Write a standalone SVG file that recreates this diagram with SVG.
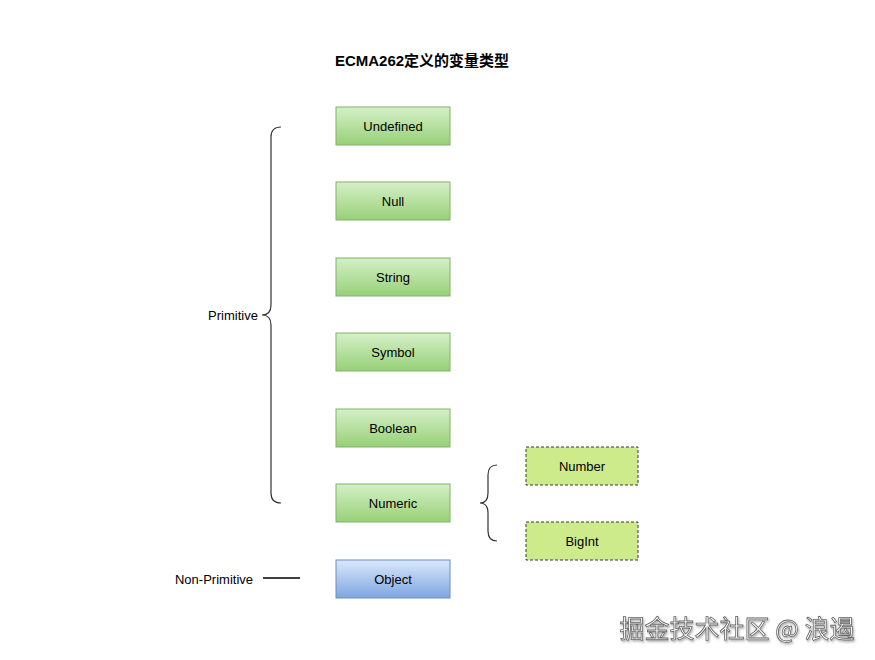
<svg xmlns="http://www.w3.org/2000/svg" width="875" height="660" viewBox="0 0 875 660">
<defs>
<linearGradient id="g" x1="0" y1="0" x2="0" y2="1"><stop offset="0" stop-color="#d5f0c8"/><stop offset="1" stop-color="#97d077"/></linearGradient>
<linearGradient id="b" x1="0" y1="0" x2="0" y2="1"><stop offset="0" stop-color="#dae8fc"/><stop offset="1" stop-color="#7ea6e0"/></linearGradient>
<filter id="sh" x="-10%" y="-10%" width="130%" height="130%"><feDropShadow dx="1" dy="1.5" stdDeviation="0.8" flood-color="#000" flood-opacity="0.35"/></filter>
</defs>
<style>
text{font-family:"Liberation Sans",Arial,sans-serif;font-size:13px;fill:#000;text-anchor:middle;dominant-baseline:central}
.n{fill:url(#g);stroke:#82b366;stroke-width:1}
.o{fill:url(#b);stroke:#6c8ebf;stroke-width:1}
.d{fill:#cdeb8b;stroke:#36393d;stroke-width:1;stroke-dasharray:3 2}
.br{fill:none;stroke:#333;stroke-width:1.2}
</style>
<rect width="875" height="660" fill="#fff"/>
<text x="422" y="60" style="font-size:15px;font-weight:bold;font-family:'Liberation Sans','Noto Sans CJK SC',sans-serif">ECMA262定义的变量类型</text>
<g id="undefined"><rect class="n" x="336" y="107" width="114" height="38"/><text x="393" y="126">Undefined</text></g>
<g id="null"><rect class="n" x="336" y="182" width="114" height="38"/><text x="393" y="201">Null</text></g>
<g id="string"><rect class="n" x="336" y="258" width="114" height="38"/><text x="393" y="277">String</text></g>
<g id="symbol"><rect class="n" x="336" y="333" width="114" height="38"/><text x="393" y="352">Symbol</text></g>
<g id="boolean"><rect class="n" x="336" y="409" width="114" height="38"/><text x="393" y="428">Boolean</text></g>
<g id="numeric"><rect class="n" x="336" y="484" width="114" height="38"/><text x="393" y="503">Numeric</text></g>
<g id="object"><rect class="o" x="336" y="560" width="114" height="38"/><text x="393" y="579">Object</text></g>
<g id="number"><rect class="d" x="526" y="447" width="112" height="38"/><text x="582" y="466">Number</text></g>
<g id="bigint"><rect class="d" x="526" y="522" width="112" height="38"/><text x="582" y="541">BigInt</text></g>
<g id="primitive"><text x="233" y="315">Primitive</text></g>
<g id="non-primitive"><text x="214" y="579">Non-Primitive</text></g>
<g id="connectors">
<path class="br" d="M281,127 Q271,127 271,137 L271,305 Q271,315 262,315 Q271,315 271,325 L271,493 Q271,503 281,503"/>
<path class="br" d="M497,465 Q488,465 488,475 L488,493 Q488,503 480,503 Q488,503 488,513 L488,531 Q488,541 497,541"/>
<line x1="263" y1="578" x2="300" y2="578" stroke="#000" stroke-width="1.5"/>
</g>
<text x="737" y="627" filter="url(#sh)" style="font-size:25px;fill:#fff;stroke:#666;stroke-width:0.8;font-family:'Noto Sans CJK SC',sans-serif">掘金技术社区 @ 浪遏</text>
</svg>
